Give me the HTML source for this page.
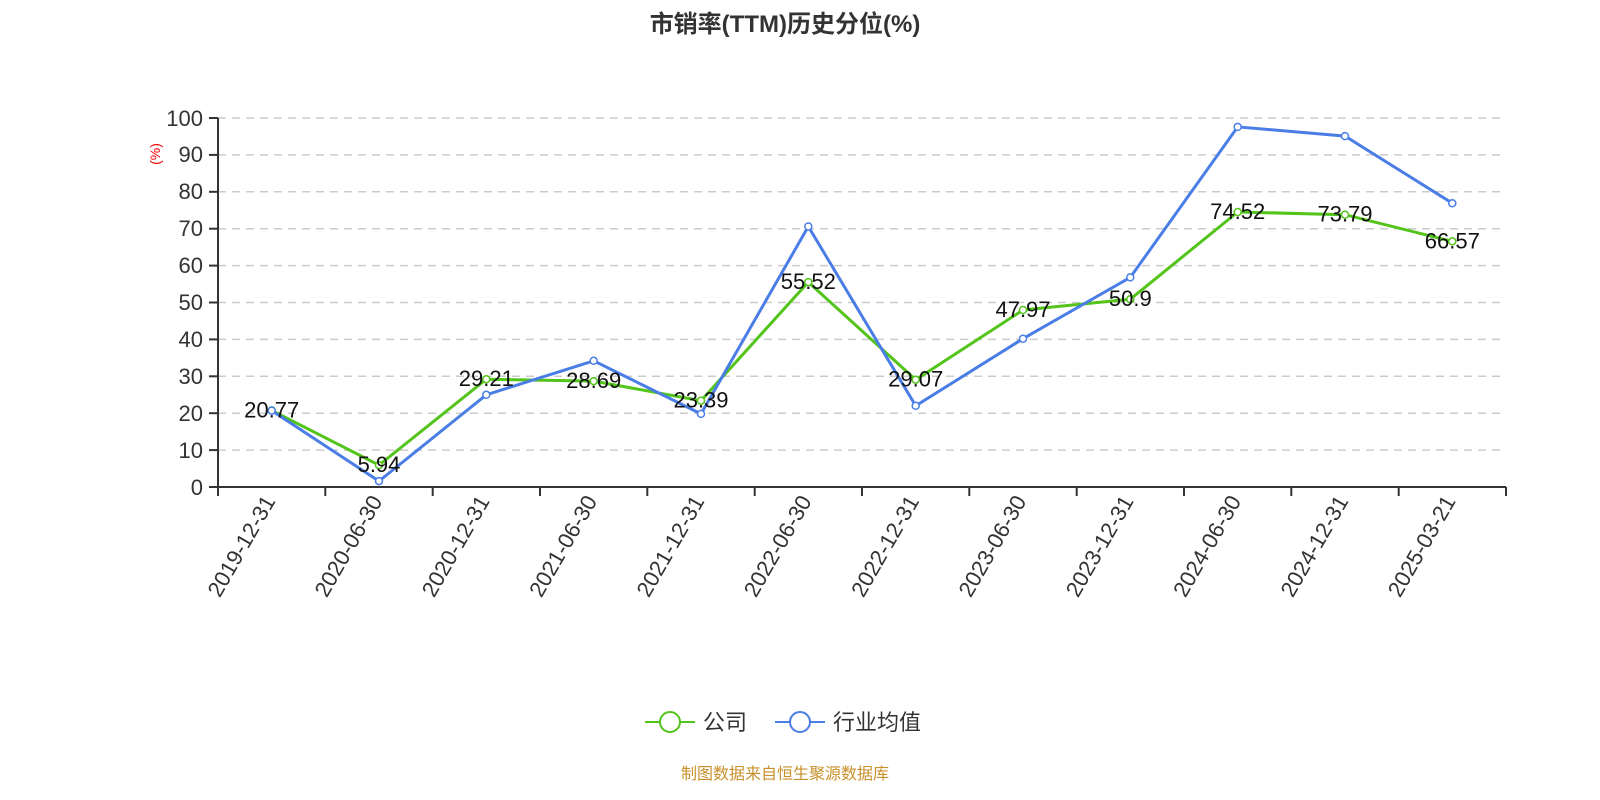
<!DOCTYPE html>
<html><head><meta charset="utf-8"><style>
html,body{margin:0;padding:0;background:#fff;}
svg{display:block;font-family:"Liberation Sans","Noto Sans CJK SC",sans-serif;}
</style></head><body>
<svg width="1600" height="800" viewBox="0 0 1600 800">
<text x="785" y="32" text-anchor="middle" font-size="24" font-weight="bold" fill="#333">市销率(TTM)历史分位(%)</text>
<g stroke="#ccc" stroke-dasharray="8,6" stroke-width="1.5">
<line x1="218" y1="450.1" x2="1506" y2="450.1"/><line x1="218" y1="413.2" x2="1506" y2="413.2"/>
<line x1="218" y1="376.3" x2="1506" y2="376.3"/><line x1="218" y1="339.4" x2="1506" y2="339.4"/>
<line x1="218" y1="302.5" x2="1506" y2="302.5"/><line x1="218" y1="265.6" x2="1506" y2="265.6"/>
<line x1="218" y1="228.7" x2="1506" y2="228.7"/><line x1="218" y1="191.8" x2="1506" y2="191.8"/>
<line x1="218" y1="154.9" x2="1506" y2="154.9"/><line x1="218" y1="118" x2="1506" y2="118"/>
</g>
<g stroke="#333" stroke-width="2">
<line x1="218" y1="118" x2="218" y2="487"/><line x1="218" y1="487" x2="1506" y2="487"/>
<line x1="209" y1="487" x2="218" y2="487"/><line x1="209" y1="450.1" x2="218" y2="450.1"/>
<line x1="209" y1="413.2" x2="218" y2="413.2"/><line x1="209" y1="376.3" x2="218" y2="376.3"/>
<line x1="209" y1="339.4" x2="218" y2="339.4"/><line x1="209" y1="302.5" x2="218" y2="302.5"/>
<line x1="209" y1="265.6" x2="218" y2="265.6"/><line x1="209" y1="228.7" x2="218" y2="228.7"/>
<line x1="209" y1="191.8" x2="218" y2="191.8"/><line x1="209" y1="154.9" x2="218" y2="154.9"/>
<line x1="209" y1="118" x2="218" y2="118"/>
<line x1="218" y1="487" x2="218" y2="496"/><line x1="325.3" y1="487" x2="325.3" y2="496"/>
<line x1="432.7" y1="487" x2="432.7" y2="496"/><line x1="540" y1="487" x2="540" y2="496"/>
<line x1="647.3" y1="487" x2="647.3" y2="496"/><line x1="754.7" y1="487" x2="754.7" y2="496"/>
<line x1="862" y1="487" x2="862" y2="496"/><line x1="969.3" y1="487" x2="969.3" y2="496"/>
<line x1="1076.7" y1="487" x2="1076.7" y2="496"/><line x1="1184" y1="487" x2="1184" y2="496"/>
<line x1="1291.3" y1="487" x2="1291.3" y2="496"/><line x1="1398.7" y1="487" x2="1398.7" y2="496"/>
<line x1="1506" y1="487" x2="1506" y2="496"/>
</g>
<g font-size="22" fill="#333" text-anchor="end">
<text x="203" y="495">0</text><text x="203" y="458">10</text><text x="203" y="421">20</text>
<text x="203" y="384">30</text><text x="203" y="347">40</text><text x="203" y="310">50</text>
<text x="203" y="273">60</text><text x="203" y="236">70</text><text x="203" y="199">80</text>
<text x="203" y="162">90</text><text x="203" y="126">100</text>
</g>
<text x="160" y="154" font-size="14" fill="#f00" text-anchor="middle" transform="rotate(-90 160 154)">(%)</text>
<g font-size="22" fill="#333" text-anchor="end">
<text transform="translate(276,501) rotate(-60)">2019-12-31</text>
<text transform="translate(383,501) rotate(-60)">2020-06-30</text>
<text transform="translate(490.3,501) rotate(-60)">2020-12-31</text>
<text transform="translate(597.7,501) rotate(-60)">2021-06-30</text>
<text transform="translate(705,501) rotate(-60)">2021-12-31</text>
<text transform="translate(812.3,501) rotate(-60)">2022-06-30</text>
<text transform="translate(919.7,501) rotate(-60)">2022-12-31</text>
<text transform="translate(1027,501) rotate(-60)">2023-06-30</text>
<text transform="translate(1134.3,501) rotate(-60)">2023-12-31</text>
<text transform="translate(1241.7,501) rotate(-60)">2024-06-30</text>
<text transform="translate(1349,501) rotate(-60)">2024-12-31</text>
<text transform="translate(1456.3,501) rotate(-60)">2025-03-21</text>
</g>
<polyline fill="none" stroke="#52c41a" stroke-width="3" points="271.7,410.4 379,465.1 486.3,379.2 593.7,381.1 701,400.7 808.3,282.1 915.7,379.7 1023,310 1130.3,299.2 1237.7,212 1345,214.7 1452.3,241.4"/>
<g fill="#fff" stroke="#52c41a" stroke-width="1.5">
<circle cx="271.7" cy="410.4" r="3.5"/><circle cx="379" cy="465.1" r="3.5"/><circle cx="486.3" cy="379.2" r="3.5"/>
<circle cx="593.7" cy="381.1" r="3.5"/><circle cx="701" cy="400.7" r="3.5"/><circle cx="808.3" cy="282.1" r="3.5"/>
<circle cx="915.7" cy="379.7" r="3.5"/><circle cx="1023" cy="310" r="3.5"/><circle cx="1130.3" cy="299.2" r="3.5"/>
<circle cx="1237.7" cy="212" r="3.5"/><circle cx="1345" cy="214.7" r="3.5"/><circle cx="1452.3" cy="241.4" r="3.5"/>
</g>
<polyline fill="none" stroke="#4a7ee6" stroke-width="3" points="271.7,410.6 379,481.1 486.3,394.8 593.7,360.8 701,413.9 808.3,226.5 915.7,405.8 1023,338.7 1130.3,277.4 1237.7,126.9 1345,136.1 1452.3,203.2"/>
<g fill="#fff" stroke="#4a7ee6" stroke-width="1.5">
<circle cx="271.7" cy="410.6" r="3.5"/><circle cx="379" cy="481.1" r="3.5"/><circle cx="486.3" cy="394.8" r="3.5"/>
<circle cx="593.7" cy="360.8" r="3.5"/><circle cx="701" cy="413.9" r="3.5"/><circle cx="808.3" cy="226.5" r="3.5"/>
<circle cx="915.7" cy="405.8" r="3.5"/><circle cx="1023" cy="338.7" r="3.5"/><circle cx="1130.3" cy="277.4" r="3.5"/>
<circle cx="1237.7" cy="126.9" r="3.5"/><circle cx="1345" cy="136.1" r="3.5"/><circle cx="1452.3" cy="203.2" r="3.5"/>
</g>
<g font-size="22" fill="#111" text-anchor="middle">
<text x="271.7" y="417.4">20.77</text><text x="379" y="472.1">5.94</text><text x="486.3" y="386.2">29.21</text>
<text x="593.7" y="388.1">28.69</text><text x="701" y="407.7">23.39</text><text x="808.3" y="289.1">55.52</text>
<text x="915.7" y="386.7">29.07</text><text x="1023" y="317">47.97</text><text x="1130.3" y="306.2">50.9</text>
<text x="1237.7" y="219">74.52</text><text x="1345" y="221.7">73.79</text><text x="1452.3" y="248.4">66.57</text>
</g>
<g transform="translate(645,722)">
<line x1="0" y1="0" x2="50" y2="0" stroke="#52c41a" stroke-width="2"/>
<circle cx="25" cy="0" r="10" fill="#fff" stroke="#52c41a" stroke-width="2"/>
<text x="58" y="8" font-size="22" fill="#333">公司</text>
<line x1="130" y1="0" x2="180" y2="0" stroke="#4a7ee6" stroke-width="2"/>
<circle cx="155" cy="0" r="10" fill="#fff" stroke="#4a7ee6" stroke-width="2"/>
<text x="188" y="8" font-size="22" fill="#333">行业均值</text>
</g>
<text x="785" y="779" text-anchor="middle" font-size="16" fill="#c8902a">制图数据来自恒生聚源数据库</text>
</svg>
</body></html>
